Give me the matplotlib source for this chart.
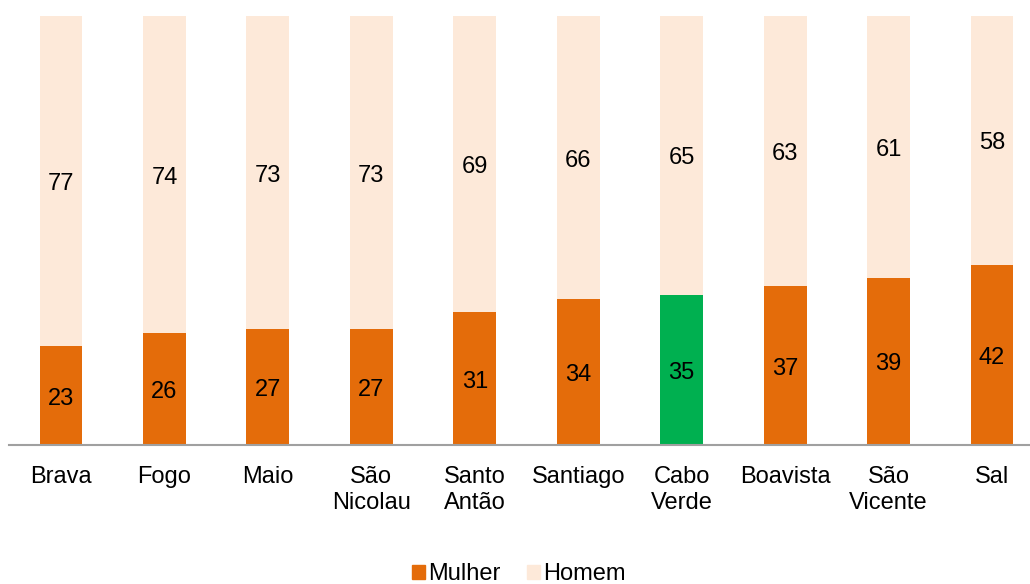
import numpy as np
import matplotlib.pyplot as plt
import matplotlib.transforms as mtransforms
from matplotlib.patches import Patch

plt.rcParams['font.family'] = ['Liberation Sans', 'DejaVu Sans']

# data
ilhas = ['Brava', 'Fogo', 'Maio', 'São\nNicolau', 'Santo\nAntão', 'Santiago',
         'Cabo\nVerde', 'Boavista', 'São\nVicente', 'Sal']
mulher = [23, 26, 27, 27, 31, 34, 35, 37, 39, 42]
homem = [77, 74, 73, 73, 69, 66, 65, 63, 61, 58]

laranja = '#E46C0A'
rosa = '#FDE9D9'
verde = '#00B050'
cores = [verde if n == 'Cabo\nVerde' else laranja for n in ilhas]

fs = 17

fig = plt.figure(figsize=(10.30, 5.84), dpi=100)
ax = fig.add_axes([9.3 / 1030, 139 / 584, 1034.4 / 1030, 429 / 584])

x = np.arange(len(ilhas))
w = 0.415
tot = np.array(mulher) + np.array(homem)
pm = np.array(mulher) / tot * 100
ph = np.array(homem) / tot * 100

ax.bar(x, pm, w, color=cores, zorder=2)
ax.bar(x, ph, w, bottom=pm, color=rosa, zorder=2)

# labels sit a touch lower than the exact centre
tr = mtransforms.offset_copy(ax.transData, fig=fig, x=0, y=-3, units='dots')
for i in range(len(ilhas)):
    ax.text(x[i], pm[i] / 2, str(mulher[i]), ha='center', va='center',
            fontsize=fs, transform=tr)
    ax.text(x[i], pm[i] + ph[i] / 2, str(homem[i]), ha='center', va='center',
            fontsize=fs, transform=tr)

ax.set_xlim(-0.5, len(ilhas) - 0.5)
ax.set_ylim(0, 100)
ax.set_xticks(x)
ax.set_xticklabels(ilhas, fontsize=fs)
for t in ax.get_xticklabels():
    t.set_linespacing(1.25)
ax.tick_params(axis='x', length=0, pad=15)
ax.set_yticks([])
for s in ['top', 'right', 'left']:
    ax.spines[s].set_visible(False)
ax.spines['bottom'].set_color('#A0A0A0')
ax.spines['bottom'].set_linewidth(1.5)

handles = [Patch(color=laranja, label='Mulher'), Patch(color=rosa, label='Homem')]
fig.legend(handles=handles, loc='center', bbox_to_anchor=(519 / 1030, 1 - 574.5 / 584),
           ncol=2, frameon=False, fontsize=fs, handlelength=0.55, handleheight=0.55,
           handletextpad=0.15, columnspacing=1.1, borderpad=0)

fig.savefig('out.png', dpi=100)
